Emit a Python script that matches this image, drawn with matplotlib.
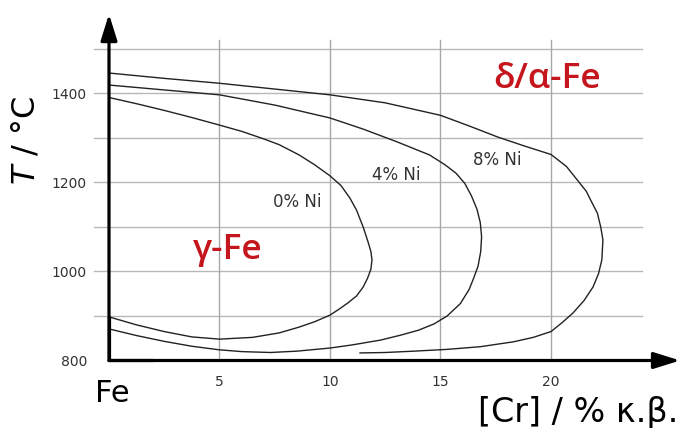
import matplotlib
matplotlib.use("Agg")
import matplotlib.pyplot as plt

# ---- data ----
cr_0ni = [0, 1.25, 2.5, 3.75, 5, 6, 7, 7.7, 8.6, 9.3, 10, 10.5, 10.9, 11.2, 11.5, 11.7, 11.85, 11.9,
          11.85, 11.7, 11.5, 11.2, 10.8, 10.4, 10, 9.3, 8.6, 7.7, 6.5, 5, 3.75, 2.5, 1.25, 0]
t_0ni = [1391, 1377, 1362, 1346, 1329, 1315, 1298, 1285, 1262, 1240, 1215, 1193, 1165, 1138, 1100, 1070, 1045, 1026,
         1005, 985, 965, 945, 929, 915, 902, 887, 875, 862, 852, 848, 853, 865, 880, 898]

cr_4ni = [0, 2.5, 5, 7.5, 10, 11.5, 13, 14, 14.5, 15.2, 15.7, 16.1, 16.4, 16.65, 16.8, 16.86,
          16.82, 16.7, 16.5, 16.3, 15.9, 15.3, 14.7, 14, 13.2, 12.3, 11, 10, 8.5, 7.3, 6, 5, 3.75, 2.5, 1.25, 0]
t_4ni = [1419, 1408, 1397, 1374, 1345, 1320, 1292, 1272, 1262, 1240, 1221, 1198, 1170, 1140, 1110, 1078,
         1045, 1012, 985, 960, 928, 900, 882, 868, 857, 846, 835, 828, 821, 818, 820, 824, 832, 843, 856, 871]

cr_8ni = [0, 2.5, 5, 7.5, 10, 12.5, 15, 16.3, 17.6, 18.8, 20, 20.7, 21.2, 21.6, 21.8, 22.1, 22.25, 22.35,
          22.3, 22.15, 21.9, 21.5, 21, 20.5, 20, 19.2, 18.3, 16.8, 15.3, 13.8, 12.5, 11.36]
t_8ni = [1446, 1434, 1423, 1410, 1397, 1379, 1351, 1327, 1302, 1282, 1263, 1236, 1205, 1180, 1160, 1131, 1100, 1071,
         1026, 995, 965, 935, 907, 885, 865, 852, 842, 831, 825, 821, 818, 817]

x_ticks = [5, 10, 15, 20]
y_ticks = [800, 1000, 1200, 1400]
h_grid = [900, 1000, 1100, 1200, 1300, 1400, 1500]
v_grid = [5, 10, 15, 20]

curve_labels = ["0% Ni", "4% Ni", "8% Ni"]
curve_label_pos = [(8.5, 1156), (13.0, 1217), (17.55, 1250)]

RED = "#c4161c"

fig = plt.figure(figsize=(6.81, 4.28), dpi=100)
ax = fig.add_axes([109 / 681, 67.5 / 428, (641.6 - 109) / 681, (360.5 - 40.1) / 428])
ax.set_xlim(0, 24.1)
ax.set_ylim(800, 1520)
for s in ax.spines.values():
    s.set_visible(False)

# grid
for y in h_grid:
    ax.plot([-0.68, 24.1], [y, y], color="#b8b8b8", lw=1.0, clip_on=False, zorder=1)
for x in v_grid:
    ax.plot([x, x], [800, 1520], color="#a8a8a8", lw=1.0, clip_on=False, zorder=1)

# curves
for cx, ty in [(cr_0ni, t_0ni), (cr_4ni, t_4ni), (cr_8ni, t_8ni)]:
    ax.plot(cx, ty, color="#222222", lw=1.0, zorder=3, solid_joinstyle="round")

for lab, (x, y) in zip(curve_labels, curve_label_pos):
    ax.text(x, y, lab, ha="center", va="center", fontsize=12, color="#333333")

# axes with arrows
ax.plot([0, 0, 2], [900, 800, 800], color="black", lw=2.3, clip_on=False,
        solid_joinstyle="miter", solid_capstyle="butt", zorder=4)
arrow = dict(arrowstyle="-|>,head_length=0.8,head_width=0.25", lw=2.3,
             color="black", mutation_scale=20, shrinkA=0, shrinkB=0)
ax.annotate("", xy=(0, 1578.6), xytext=(0, 800), arrowprops=arrow,
            annotation_clip=False, zorder=4)
ax.annotate("", xy=(25.84, 800), xytext=(0, 800), arrowprops=arrow,
            annotation_clip=False, zorder=4)

# ticks
ax.set_xticks(x_ticks)
ax.set_xticklabels([str(v) for v in x_ticks])
ax.set_yticks(y_ticks)
ax.set_yticklabels([str(v) for v in y_ticks])
ax.tick_params(axis="both", length=0, labelsize=10, labelcolor="#333333")
ax.tick_params(axis="y", pad=22 * 72 / 100)
ax.tick_params(axis="x", pad=14 * 72 / 100)

# region labels
ax.text(3.8, 1028, "γ-Fe", color=RED, fontsize=25.5, fontfamily="Open Sans",
        fontweight="semibold", ha="left", va="baseline")
ax.text(17.38, 1412, "δ/α-Fe", color=RED, fontsize=25.5, fontfamily="Open Sans",
        fontweight="semibold", ha="left", va="baseline")

# axis titles
fig.text(26 / 681, 1 - 140 / 428, "$T$ / °C", rotation=90, ha="center", va="center",
         fontsize=23, color="black")
fig.text(95 / 681, 1 - 402 / 428, "Fe", ha="left", va="baseline", fontsize=22, color="black")
fig.text(678 / 681, 1 - 422 / 428, "[Cr] / % κ.β.", ha="right", va="baseline",
         fontsize=24, color="black")

fig.savefig("out.png", dpi=100)
